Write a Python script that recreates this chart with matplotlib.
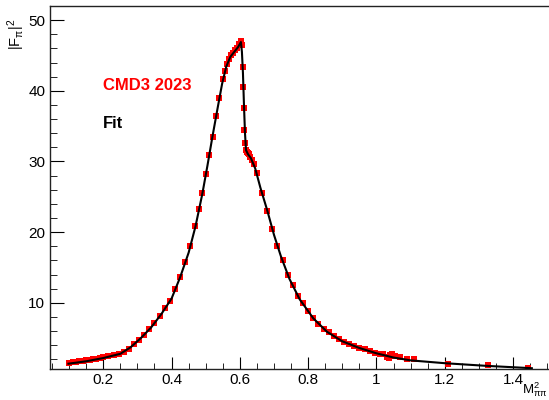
import matplotlib
matplotlib.use("Agg")
import matplotlib.pyplot as plt
from matplotlib.ticker import MultipleLocator

plt.rcParams["font.family"] = ["Liberation Sans", "DejaVu Sans"]
plt.rcParams["mathtext.fontset"] = "custom"
plt.rcParams["mathtext.rm"] = "Liberation Sans"
plt.rcParams["mathtext.it"] = "Liberation Sans"
plt.rcParams["mathtext.bf"] = "Liberation Sans:bold"

# CMD3 2023 points: M^2_pipi (GeV^2), |F_pi|^2 and its error
mass2 = [0.100, 0.110, 0.120, 0.130, 0.140, 0.150, 0.160, 0.170, 0.180, 0.190,
         0.200, 0.215, 0.230, 0.245, 0.260, 0.275, 0.290, 0.305, 0.320, 0.335,
         0.350, 0.365, 0.380, 0.395, 0.410, 0.425, 0.440, 0.455, 0.470, 0.480,
         0.490, 0.500, 0.510, 0.520, 0.530, 0.540, 0.550, 0.556, 0.562, 0.568,
         0.574, 0.580, 0.586, 0.592, 0.598, 0.602, 0.605, 0.6085, 0.610, 0.6115,
         0.613, 0.6145, 0.617, 0.620, 0.623, 0.626, 0.630, 0.635, 0.640, 0.650,
         0.665, 0.680, 0.695, 0.710, 0.725, 0.740, 0.755, 0.770, 0.785, 0.800,
         0.815, 0.830, 0.845, 0.860, 0.875, 0.890, 0.905, 0.920, 0.935, 0.950,
         0.965, 0.980, 0.995, 1.010, 1.020, 1.030, 1.036, 1.040, 1.046, 1.055,
         1.070, 1.090, 1.110, 1.210, 1.327, 1.443]
ff2 = [1.50, 1.60, 1.65, 1.75, 1.80, 1.85, 1.90, 2.00, 2.10, 2.20,
       2.30, 2.45, 2.60, 2.80, 3.10, 3.50, 4.15, 4.80, 5.50, 6.30,
       7.10, 8.10, 9.20, 10.3, 11.9, 13.6, 15.8, 18.1, 20.9, 23.3,
       25.5, 28.2, 30.9, 33.5, 36.4, 39.0, 41.6, 42.8, 43.8, 44.5,
       45.0, 45.4, 45.8, 46.1, 46.6, 47.0, 46.5, 43.4, 40.6, 37.5,
       34.4, 32.6, 31.6, 31.3, 31.2, 31.0, 30.6, 30.2, 29.6, 28.3,
       25.6, 23.0, 20.5, 18.0, 16.1, 14.0, 12.5, 11.0, 9.90, 8.80,
       7.80, 7.00, 6.35, 5.80, 5.30, 4.90, 4.50, 4.20, 3.90, 3.65,
       3.40, 3.15, 2.95, 2.80, 2.75, 2.35, 2.20, 2.60, 2.70, 2.50,
       2.30, 2.00, 2.10, 1.40, 1.20, 0.82]
ff2_err = [0.05, 0.05, 0.05, 0.05, 0.05, 0.05, 0.05, 0.05, 0.05, 0.05,
           0.05, 0.05, 0.05, 0.06, 0.06, 0.07, 0.08, 0.08, 0.09, 0.10,
           0.10, 0.12, 0.13, 0.14, 0.15, 0.17, 0.19, 0.21, 0.23, 0.25,
           0.27, 0.29, 0.31, 0.33, 0.35, 0.37, 0.40, 0.40, 0.42, 0.42,
           0.43, 0.43, 0.44, 0.44, 0.45, 0.45, 0.45, 0.45, 0.42, 0.40,
           0.38, 0.36, 0.34, 0.32, 0.32, 0.32, 0.31, 0.31, 0.30, 0.28,
           0.26, 0.24, 0.22, 0.20, 0.18, 0.16, 0.14, 0.13, 0.12, 0.11,
           0.10, 0.09, 0.08, 0.08, 0.07, 0.07, 0.06, 0.06, 0.06, 0.05,
           0.05, 0.05, 0.05, 0.05, 0.05, 0.05, 0.05, 0.05, 0.05, 0.05,
           0.05, 0.05, 0.05, 0.05, 0.05, 0.05]

# fit curve
fit_m2 = [0.098, 0.150, 0.200, 0.250, 0.280, 0.310, 0.340, 0.370, 0.400, 0.425,
          0.450, 0.470, 0.490, 0.505, 0.520, 0.535, 0.548, 0.560, 0.572, 0.585,
          0.595, 0.603, 0.606, 0.609, 0.612, 0.615, 0.618, 0.624, 0.632, 0.645,
          0.660, 0.680, 0.700, 0.720, 0.745, 0.775, 0.815, 0.855, 0.900, 0.950,
          1.000, 1.050, 1.100, 1.200, 1.320, 1.455]
fit_ff2 = [1.38, 1.72, 2.18, 2.78, 3.70, 5.00, 6.50, 8.40, 10.6, 13.6,
           17.1, 20.8, 25.4, 29.4, 33.6, 37.6, 41.0, 43.4, 44.8, 45.6,
           46.2, 46.9, 45.5, 42.5, 38.0, 34.0, 31.6, 31.0, 30.5, 29.0,
           26.3, 23.1, 19.6, 16.6, 13.4, 10.5, 7.80, 5.90, 4.55, 3.60,
           2.85, 2.25, 1.85, 1.45, 1.08, 0.74]

fig = plt.figure(figsize=(5.49, 4.0), dpi=100)
ax = fig.add_axes([50 / 549, 31.5 / 400, 514.3 / 549, 362.5 / 400])

ax.errorbar(mass2, ff2, yerr=ff2_err, fmt="s", color="red", ms=4.0, mew=0,
            elinewidth=1.2, capsize=0, zorder=2)
ax.plot(fit_m2, fit_ff2, color="black", lw=1.5, zorder=3)

ax.set_xlim(0.044, 1.55)
ax.set_ylim(0.7, 52)

ax.xaxis.set_major_locator(MultipleLocator(0.2))
ax.xaxis.set_minor_locator(MultipleLocator(0.05))
ax.yaxis.set_major_locator(MultipleLocator(10))
ax.yaxis.set_minor_locator(MultipleLocator(2))
ax.xaxis.set_major_formatter(lambda v, p: f"{v:g}")
ax.tick_params(which="both", direction="in", top=False, right=False,
               labelsize=11, colors="black")
ax.tick_params(axis="y", which="major", length=10, pad=3.5)
ax.tick_params(axis="y", which="minor", length=5)
ax.tick_params(axis="x", which="major", length=8.5, pad=3)
ax.tick_params(axis="x", which="minor", length=4.5)
for s in ax.spines.values():
    s.set_linewidth(1.0)
    s.set_color("#222222")
ax.spines["right"].set_visible(False)

fig.text(16 / 549, 1 - 19 / 400, r"$|F_{\pi}|^{2}$", rotation=90,
         ha="center", va="top", fontsize=10.5)
fig.text(547 / 549, 1 / 400, r"$M^{2}_{\pi\pi}$", ha="right",
         va="bottom", fontsize=9.5)

ax.text(103 / 549, 1 - 86 / 400, "CMD3 2023", transform=fig.transFigure,
        color="red", fontsize=12, fontweight="bold", ha="left", va="center")
ax.text(103 / 549, 1 - 124 / 400, "Fit", transform=fig.transFigure,
        color="black", fontsize=12, fontweight="bold", ha="left", va="center")

fig.savefig("out.png", dpi=100)
